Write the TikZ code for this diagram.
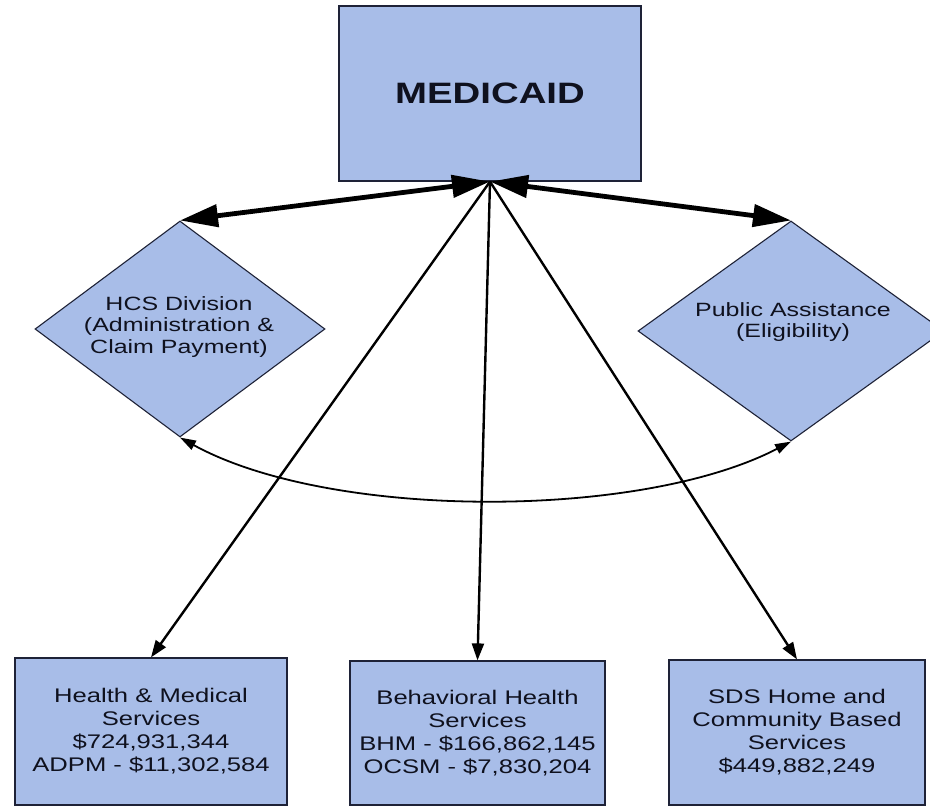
\documentclass[tikz,border=0pt]{standalone}
\usepackage{fontspec}
\setmainfont{Liberation Sans}[FakeStretch=1.3]
\usetikzlibrary{shapes.geometric,arrows.meta}
\definecolor{boxfill}{RGB}{168,189,232}
\definecolor{boxline}{RGB}{30,34,55}
\definecolor{txt}{RGB}{15,17,30}
\begin{document}
\begin{tikzpicture}[x=1pt,y=-1pt,
  box/.style={draw=boxline, fill=boxfill, line width=1.2pt, rectangle, inner sep=0pt,
              align=center, text=txt, font=\fontsize{19.7pt}{23pt}\selectfont},
  dia/.style={draw=boxline, fill=boxfill, line width=1.1pt, diamond, inner sep=0pt, aspect=1.4},
  lbl/.style={align=center, text=txt, font=\fontsize{19.2pt}{21.7pt}\selectfont, inner sep=0pt},
  biglink/.style={line width=4.8pt, draw=black,
     {Triangle[length=38pt,width=22pt]}-{Triangle[length=38pt,width=22pt]}},
  downlink/.style={line width=2.4pt, draw=black, -{Triangle[length=17pt,width=12pt]}},
  curvelink/.style={line width=1.8pt, draw=black,
     {Triangle[length=16pt,width=10pt]}-{Triangle[length=16pt,width=10pt]}}
]
\useasboundingbox (0,0) rectangle (930,807);
\clip (0,0) rectangle (930,807);
\fill[white] (0,0) rectangle (930,807);

% top box
\node[box, minimum width=302pt, minimum height=175pt,
      font=\fontsize{29.5pt}{33pt}\selectfont\bfseries] (M) at (490,93.5) {MEDICAID};

% diamonds
\node[dia, minimum width=290pt, minimum height=216pt] (hcs) at (180,329) {};
\node[lbl] (hcst) at (179,327) {HCS Division\\(Administration \&\\Claim Payment)};
\node[dia, minimum width=306pt, minimum height=220pt] (pa) at (791,331) {};
\node[lbl] (pat) at (793,322) {Public Assistance\\(Eligibility)};

% bottom boxes
\node[box, minimum width=272pt, minimum height=147pt] (b1) at (151,731.5)
  {Health \& Medical\\Services\\\$724,931,344\\ADPM - \$11,302,584};
\node[box, minimum width=255pt, minimum height=144pt] (b2) at (477.5,733)
  {Behavioral Health\\Services\\BHM - \$166,862,145\\OCSM - \$7,830,204};
\node[box, minimum width=256pt, minimum height=145pt] (b3) at (797,732.5)
  {SDS Home and\\Community Based\\Services\\\$449,882,249};

% connectors
\draw[curvelink] (hcs.south) .. controls (330,520) and (640,520) .. (pa.south);
\draw[downlink] (M.south) -- (b1.north);
\draw[downlink] (M.south) -- (b2.north);
\draw[downlink] (M.south) -- (b3.north);
\draw[biglink] (M.south) -- (hcs.north);
\draw[biglink] (M.south) -- (pa.north);
\end{tikzpicture}
\end{document}
